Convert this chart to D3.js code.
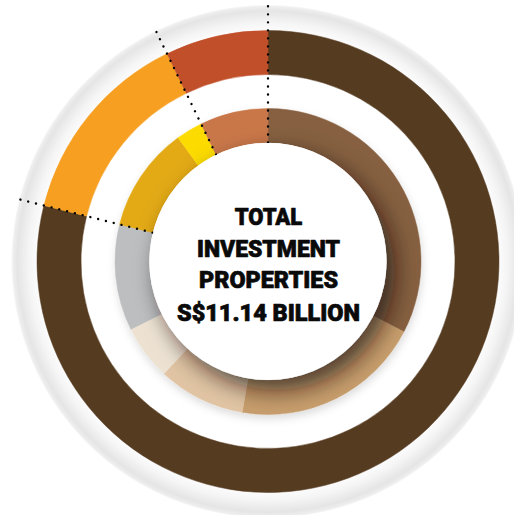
<!DOCTYPE html>
<html>
<head>
<meta charset="utf-8">
<script src="https://cdn.jsdelivr.net/npm/d3@7"></script>
<style>
  html, body { margin: 0; padding: 0; background: #ffffff; }
  svg { display: block; }
</style>
</head>
<body>
<script>
// Investment properties breakdown, two rings (shares in %)
const outerKeys   = ["Core", "Growth", "Other"];
const outerValues = [78.9, 13.9, 7.2];
const outerColors = ["#553b20", "#f79f21", "#c1502a"];

const innerKeys   = ["Seg 1", "Seg 2", "Seg 3", "Seg 4", "Seg 5", "Seg 6", "Seg 7", "Seg 8"];
const innerValues = [32.6, 20.1, 9.2, 5.8, 11.2, 11.1, 2.8, 7.2];
const innerColors = ["#866040", "#c79d6c", "#e0c4a3", "#ede2d2", "#bdbec0", "#e3aa17", "#fcdb00", "#c97749"];

const centerLines = ["TOTAL", "INVESTMENT", "PROPERTIES", "S$11.14 BILLION"];

const W = 514, H = 515;
const cx = 268, cy = 261.5;
const R = { halo: 257, outerO: 231, outerI: 187, innerO: 153, innerI: 118.5, dotIn: 119, dotOut: 256 };

const svg = d3.select("body").append("svg").attr("width", W).attr("height", H);
const defs = svg.append("defs");

// soft grey halo behind the rings
const halo = defs.append("radialGradient").attr("id", "halo")
  .attr("cx", 0.5).attr("cy", 0.5).attr("r", 0.5);
[[0, "#ffffff"], [0.88, "#ffffff"], [0.93, "#f5f5f5"], [0.975, "#e5e5e5"], [0.992, "#eeeeee"], [1, "#ffffff"]]
  .forEach(([o, c]) => halo.append("stop").attr("offset", o).attr("stop-color", c));

const ringShadow = defs.append("filter").attr("id", "ringShadow")
  .attr("x", "-20%").attr("y", "-20%").attr("width", "140%").attr("height", "140%");
ringShadow.append("feDropShadow").attr("dx", 1).attr("dy", 4).attr("stdDeviation", 4)
  .attr("flood-color", "#000").attr("flood-opacity", 0.14);

const discShadow = defs.append("filter").attr("id", "discShadow")
  .attr("x", "-30%").attr("y", "-30%").attr("width", "160%").attr("height", "160%");
discShadow.append("feDropShadow").attr("dx", 8).attr("dy", 10).attr("stdDeviation", 11)
  .attr("flood-color", "#1a1008").attr("flood-opacity", 0.7);

const g = svg.append("g").attr("transform", `translate(${cx},${cy})`);

g.append("circle").attr("r", R.halo).attr("fill", "url(#halo)");

const pie = d3.pie().sort(null).startAngle(0).endAngle(2 * Math.PI);

const outerArcs = pie(outerValues);
const innerArcs = pie(innerValues);

const outerArc = d3.arc().innerRadius(R.outerI).outerRadius(R.outerO);
const innerArc = d3.arc().innerRadius(R.innerI).outerRadius(R.innerO);

g.append("g").selectAll("path").data(outerArcs).join("path")
  .attr("d", outerArc)
  .attr("fill", (d, i) => outerColors[i])
  .attr("stroke", (d, i) => outerColors[i]).attr("stroke-width", 0.5);

const innerG = g.append("g");
innerG.append("g").attr("filter", "url(#ringShadow)")
  .selectAll("path").data(innerArcs).join("path")
  .attr("d", innerArc)
  .attr("fill", (d, i) => innerColors[i])
  .attr("stroke", (d, i) => innerColors[i]).attr("stroke-width", 0.5);

// centre disc, its shadow falls on the inner ring only
const ringClip = defs.append("clipPath").attr("id", "ringClip");
ringClip.append("circle").attr("cx", cx).attr("cy", cy).attr("r", R.innerO);
svg.append("g").attr("clip-path", "url(#ringClip)")
  .append("circle").attr("cx", cx).attr("cy", cy).attr("r", R.innerI)
  .attr("fill", "#ffffff").attr("filter", "url(#discShadow)");
g.append("circle").attr("r", R.innerI + 0.3).attr("fill", "#ffffff");

// dotted dividers at each outer-ring boundary
const boundaries = outerArcs.map(d => d.startAngle);
g.append("g").selectAll("line").data(boundaries).join("line")
  .attr("x1", a => R.dotIn * Math.sin(a)).attr("y1", a => -R.dotIn * Math.cos(a))
  .attr("x2", a => R.dotOut * Math.sin(a)).attr("y2", a => -R.dotOut * Math.cos(a))
  .attr("stroke", "#000").attr("stroke-width", 2.4)
  .attr("stroke-linecap", "round").attr("stroke-dasharray", "0.01 8");

// centre label
const lineY = [225, 256.7, 288.3, 320.7];
const lineW = [67.5, 143, 139, 183];
svg.append("g").selectAll("text").data(centerLines).join("text")
  .attr("x", cx + 0.5)
  .attr("y", (d, i) => lineY[i])
  .attr("text-anchor", "middle")
  .attr("font-family", "Roboto, 'DejaVu Sans', sans-serif")
  .attr("font-weight", 900)
  .attr("font-size", 24)
  .attr("fill", "#0a0a0a")
  .attr("stroke", "#0a0a0a")
  .attr("stroke-width", 0.7)
  .attr("stroke-linejoin", "round")
  .attr("textLength", (d, i) => lineW[i])
  .attr("lengthAdjust", "spacingAndGlyphs")
  .text(d => d);
</script>
</body>
</html>
